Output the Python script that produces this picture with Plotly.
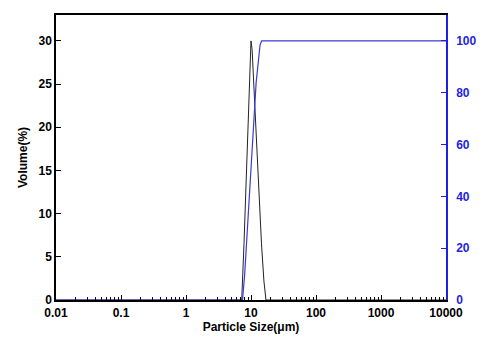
import plotly.graph_objects as go

# Volume distribution (black)
size_vol = [0.01, 7.2, 7.8, 8.5, 9.2, 9.7, 10.0, 10.4, 11.0, 12.0, 13.2, 14.5, 15.8, 17.0, 10000]
volume = [0, 0, 6.5, 15, 23.5, 28.5, 30, 29, 25, 19, 12.5, 6.5, 2.2, 0, 0]

# Cumulative (blue)
size_cum = [0.01, 7.4, 8.0, 9.0, 10.0, 11.0, 12.0, 13.0, 13.8, 14.6, 10000]
cumulative = [0, 0, 10, 30, 50, 68, 84, 94, 98.5, 100, 100]

x_tickvals = [0.01, 0.1, 1, 10, 100, 1000, 10000]
x_ticktext = ["0.01", "0.1", "1", "10", "100", "1000", "10000"]
y1_ticks = [0, 5, 10, 15, 20, 25, 30]
y2_ticks = [0, 20, 40, 60, 80, 100]

BLUE = "#1f1fe0"
FONT = "Liberation Sans"

fig = go.Figure()
fig.add_trace(go.Scatter(x=size_vol, y=volume, mode="lines",
                         line=dict(color="#222222", width=1), yaxis="y", showlegend=False))
fig.add_trace(go.Scatter(x=size_cum, y=cumulative, mode="lines",
                         line=dict(color="#3a3ad8", width=1.2), yaxis="y2", showlegend=False))

fig.update_layout(
    width=484, height=338,
    margin=dict(l=48, r=46, t=5, b=46),
    paper_bgcolor="white", plot_bgcolor="white",
    font=dict(family=FONT, size=12, color="black"),
    xaxis=dict(type="log", range=[-2, 4], tickvals=x_tickvals, ticktext=x_ticktext,
               showline=True, linecolor="black", linewidth=1.5, mirror=True,
               ticks="inside", ticklen=5, tickcolor="black", showgrid=False, zeroline=False,
               tickfont=dict(family=FONT, size=12, color="black", weight="bold"),
               ticklabelstandoff=1,
               minor=dict(ticks="inside", ticklen=3, tickcolor="black", dtick="D1", showgrid=False),
               title=dict(text="Particle Size(μm)", standoff=1,
                          font=dict(family=FONT, size=12, color="black", weight="bold"))),
    yaxis=dict(range=[0, 33], tickvals=y1_ticks, showline=True, linecolor="black", linewidth=1.5,
               ticks="inside", ticklen=5, tickcolor="black", showgrid=False, zeroline=False,
               tickfont=dict(family=FONT, size=12, color="black", weight="bold"),
               title=dict(text="Volume(%)", standoff=8,
                          font=dict(family=FONT, size=12, color="black", weight="bold"))),
    yaxis2=dict(range=[0, 110], tickvals=y2_ticks, overlaying="y", side="right",
                showline=True, linecolor=BLUE, linewidth=1.5,
                ticks="inside", ticklen=5, tickcolor=BLUE, showgrid=False, zeroline=False,
                tickfont=dict(family=FONT, size=12, color=BLUE, weight="bold"),
                ticklabelstandoff=6),
)

fig.write_html("out.html")
